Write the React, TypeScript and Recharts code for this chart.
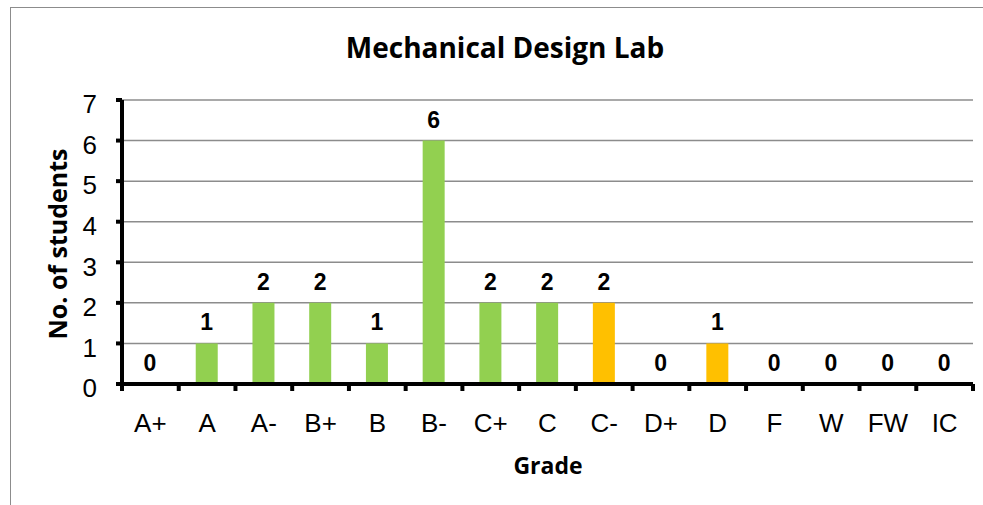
import { BarChart, Bar, XAxis, YAxis, CartesianGrid, LabelList, Cell } from "recharts";

const grades = ["A+", "A", "A-", "B+", "B", "B-", "C+", "C", "C-", "D+", "D", "F", "W", "FW", "IC"];
const students = [0, 1, 2, 2, 1, 6, 2, 2, 2, 0, 1, 0, 0, 0, 0];
const barColors = ["#92D050", "#92D050", "#92D050", "#92D050", "#92D050", "#92D050", "#92D050", "#92D050", "#FFC000", "#FFC000", "#FFC000", "#FFC000", "#FFC000", "#FFC000", "#FFC000"];
const yTicks = [0, 1, 2, 3, 4, 5, 6, 7];

const labelFont = "'Liberation Sans', Arial, sans-serif";
const titleFont = "'Open Sans', 'Noto Sans', sans-serif";

function GradeTick(props: any) {
  const { x, y, payload, index, width, visibleTicksCount } = props;
  const band = width / (visibleTicksCount || grades.length);
  const last = index === grades.length - 1;
  return (
    <g>
      <line x1={x - band / 2} x2={x - band / 2} y1={y} y2={y + 7} stroke="#000" strokeWidth={4} />
      {last && <line x1={x + band / 2} x2={x + band / 2} y1={y} y2={y + 7} stroke="#000" strokeWidth={4} />}
      <text x={x} y={y + 48} textAnchor="middle" fontSize={26} fontFamily={labelFont} fill="#000">
        {payload.value}
      </text>
    </g>
  );
}

function CountLabel(props: any) {
  const { x, y, width, height, value } = props;
  // zero bars get a 1px min size; anchor their label on the baseline
  const top = value === 0 ? Number(y) + Number(height) : Number(y);
  return (
    <text
      x={Number(x) + Number(width) / 2}
      y={top - 13}
      textAnchor="middle"
      fontFamily={labelFont}
      fontWeight={700}
      fontSize={23}
      fill="#000"
    >
      {value}
    </text>
  );
}

export default function App() {
  const data = grades.map((g, i) => ({ grade: g, count: students[i] }));

  return (
    <div style={{ position: "fixed", left: 0, top: 0, width: 983, height: 505, overflow: "hidden", background: "#fff" }}>
      <div style={{ position: "absolute", left: 10, top: 7, width: 1100, height: 700, border: "1px solid #8c8c8c" }} />
      <div
        style={{
          position: "absolute", left: 505, top: 47, transform: "translate(-50%, -50%)",
          fontFamily: titleFont, fontWeight: 700, fontSize: 28, lineHeight: "28px", color: "#000", whiteSpace: "nowrap",
        }}
      >
        Mechanical Design Lab
      </div>
      <div
        style={{
          position: "absolute", left: 57, top: 244, transform: "translate(-50%, -50%) rotate(-90deg)",
          fontFamily: titleFont, fontWeight: 700, fontSize: 25, lineHeight: "25px", color: "#000", whiteSpace: "nowrap",
        }}
      >
        No. of students
      </div>
      <div
        style={{
          position: "absolute", left: 548, top: 465, transform: "translate(-50%, -50%)",
          fontFamily: titleFont, fontWeight: 700, fontSize: 23, lineHeight: "23px", color: "#000", whiteSpace: "nowrap",
        }}
      >
        Grade
      </div>
      <div style={{ position: "absolute", left: 0, top: 0 }}>
        <BarChart width={983} height={505} data={data} margin={{ top: 100, right: 10, bottom: 0, left: 62 }}>
          <CartesianGrid vertical={false} stroke="#8c8c8c" strokeWidth={1.5} />
          <Bar dataKey="count" isAnimationActive={false} barSize={22} minPointSize={1}>
            {data.map((d, i) => (
              <Cell key={d.grade} fill={barColors[i]} />
            ))}
            <LabelList dataKey="count" content={<CountLabel />} />
          </Bar>
          <XAxis
            dataKey="grade"
            height={121}
            tickLine={false}
            tickSize={0}
            tickMargin={0}
            axisLine={{ stroke: "#000", strokeWidth: 4 }}
            tick={<GradeTick />}
            interval={0}
          />
          <YAxis
            width={60}
            domain={[0, 7]}
            ticks={yTicks}
            interval={0}
            tickSize={6}
            tickMargin={19}
            tickLine={{ stroke: "#000", strokeWidth: 4 }}
            axisLine={{ stroke: "#000", strokeWidth: 4 }}
            tick={{ fontSize: 26, fontFamily: labelFont, fill: "#000", dy: 4 }}
          />
        </BarChart>
      </div>
    </div>
  );
}
